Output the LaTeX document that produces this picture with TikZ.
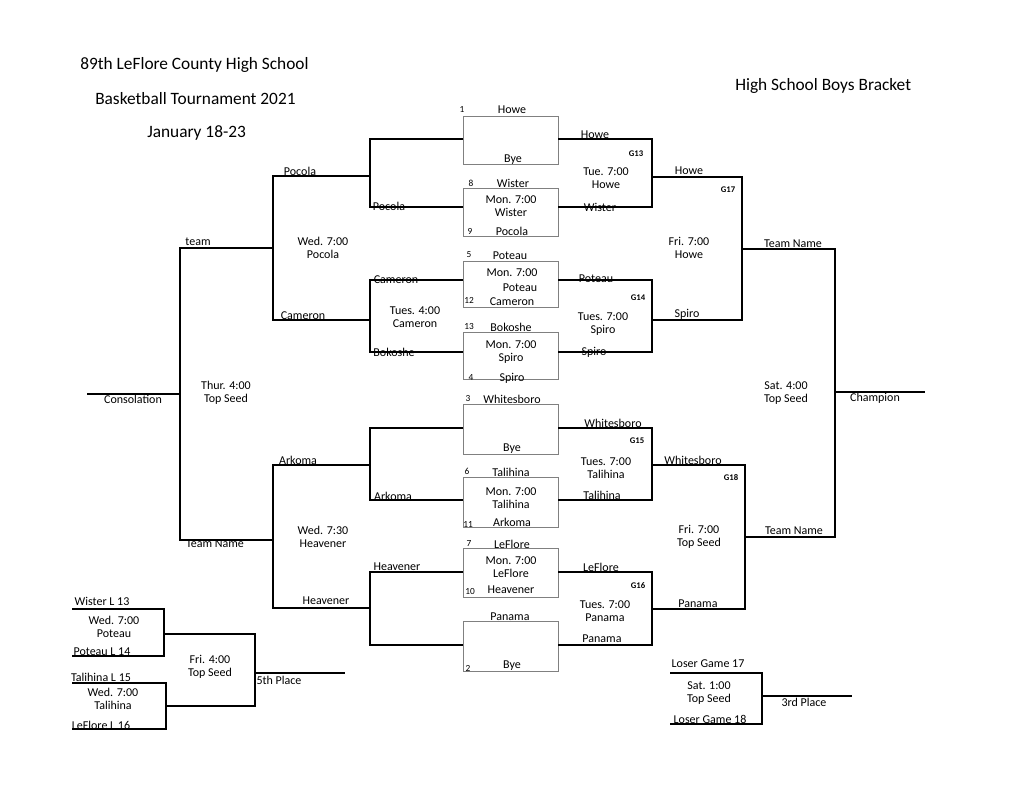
\documentclass[tikz,border=0pt]{standalone}
\usepackage{fontspec}
\setmainfont{Carlito}
\begin{document}
\begin{tikzpicture}[x=0.75pt,y=-0.75pt,
    lbl/.style={font=\fontsize{9}{10}\selectfont, inner sep=0pt},
    seed/.style={font=\fontsize{7}{8}\selectfont, inner sep=0pt},
    gnum/.style={font=\fontsize{6.5}{7}\selectfont\bfseries, inner sep=0pt},
    ttl/.style={font=\fontsize{13}{15}\selectfont, inner sep=0pt},
    bline/.style={line width=1.3pt},
    gbox/.style={draw=gray, line width=0.6pt}]
    \useasboundingbox[fill=white] (0,0) rectangle (1024,791);

    % Title
    \node[ttl, anchor=west] (t1) at (80,65) {89th LeFlore County High School};
    \node[ttl, anchor=west] (t2) at (95,99) {Basketball Tournament 2021};
    \node[ttl, anchor=west] (t3) at (147,133) {January 18-23};
    \node[ttl, anchor=west] (t4) at (735,86) {High School Boys Bracket};

    % Game boxes
    \foreach \top/\bot in {116/164,188/236,261/307,332/379,404/454,477/527,548/597,621/671}
        \draw[gbox] (463,\top) rectangle (558,\bot);

    % Left bracket lines
    \foreach \ya/\yb in {139/207,280/352,428/500,572/645} {
        \draw[bline] (463,\ya) -- (370,\ya) -- (370,\yb) -- (463,\yb);
        \draw[bline] (558,\ya) -- (652,\ya) -- (652,\yb) -- (558,\yb);
    }
    \draw[bline] (370,176) -- (273,176) -- (273,320) -- (370,320);
    \draw[bline] (370,465) -- (273,465) -- (273,608) -- (370,608);
    \draw[bline] (273,248) -- (180,248) -- (180,540) -- (273,540);
    \draw[bline] (180,394) -- (87,394);

    % Right bracket lines
    \draw[bline] (652,177) -- (742,177) -- (742,320) -- (652,320);
    \draw[bline] (652,465) -- (745,465) -- (745,609) -- (652,609);
    \draw[bline] (742,249) -- (835,249) -- (835,537) -- (745,537);
    \draw[bline] (835,392) -- (925,392);

    % Consolation lines
    \draw[bline] (72,609) -- (164,609) -- (164,656) -- (72,656);
    \draw[bline] (72,683) -- (166,683) -- (166,729) -- (72,729);
    \draw[bline] (164,634) -- (255,634) -- (255,706) -- (166,706);
    \draw[bline] (255,673) -- (345,673);

    % 3rd place lines
    \draw[bline] (670,673) -- (762,673) -- (762,724) -- (670,724);
    \draw[bline] (762,696) -- (852,696);

    % Left labels
    \node[lbl] (l1) at (198,242) {team};
    \node[lbl] (l2) at (300,171) {Pocola};
    \node[lbl] (l3) at (389,206) {Pocola};
    \node[lbl, align=center] (l4) at (323,248) {Wed. 7:00\\Pocola};
    \node[lbl] (l5) at (396,280) {Cameron};
    \node[lbl] (l6) at (303,316) {Cameron};
    \node[lbl, align=center] (l7) at (415,317) {Tues. 4:00\\Cameron};
    \node[lbl] (l8) at (394,352) {Bokoshe};
    \node[lbl] (l9) at (133,399) {Consolation};
    \node[lbl, align=center] (l10) at (226,393) {Thur. 4:00\\Top Seed};
    \node[lbl] (l11) at (298,460) {Arkoma};
    \node[lbl] (l12) at (393,496) {Arkoma};
    \node[lbl, align=center] (l13) at (323,537) {Wed. 7:30\\Heavener};
    \node[lbl] (l14) at (215,544) {Team Name};
    \node[lbl] (l15) at (397,567) {Heavener};
    \node[lbl] (l16) at (326,601) {Heavener};

    % Box labels
    \node[seed] (s1) at (462,110) {1};
    \node[lbl] (b1) at (512,110) {Howe};
    \node[lbl] (b2) at (513,160) {Bye};
    \node[seed] (s8) at (471,183) {8};
    \node[lbl] (b3) at (513,183) {Wister};
    \node[lbl, align=center] (b4) at (511,206) {Mon. 7:00\\Wister};
    \node[seed] (s9) at (470,231) {9};
    \node[lbl] (b5) at (512,231) {Pocola};
    \node[seed] (s5) at (469,255) {5};
    \node[lbl] (b6) at (510,256) {Poteau};
    \node[lbl] (b7) at (512,273) {Mon. 7:00};
    \node[lbl] (b8) at (520,288) {Poteau};
    \node[seed] (s12) at (469,300) {12};
    \node[lbl] (b9) at (512,302) {Cameron};
    \node[seed] (s13) at (469,327) {13};
    \node[lbl] (b10) at (511,327) {Bokoshe};
    \node[lbl, align=center] (b11) at (511,352) {Mon. 7:00\\Spiro};
    \node[seed] (s4) at (471,378) {4};
    \node[lbl] (b12) at (512,378) {Spiro};
    \node[seed] (s3) at (468,399) {3};
    \node[lbl] (b13) at (512,399) {Whitesboro};
    \node[lbl] (b14) at (512,449) {Bye};
    \node[seed] (s6) at (467,471) {6};
    \node[lbl] (b15) at (511,472) {Talihina};
    \node[lbl, align=center] (b16) at (511,498) {Mon. 7:00\\Talihina};
    \node[seed] (s11) at (468,524) {11};
    \node[lbl] (b17) at (512,522) {Arkoma};
    \node[seed] (s7) at (469,544) {7};
    \node[lbl] (b18) at (512,544) {LeFlore};
    \node[lbl, align=center] (b19) at (511,567) {Mon. 7:00\\LeFlore};
    \node[seed] (s10) at (470,592) {10};
    \node[lbl] (b20) at (511,590) {Heavener};
    \node[lbl] (b21) at (510,617) {Panama};
    \node[seed] (s2) at (468,668) {2};
    \node[lbl] (b22) at (512,666) {Bye};

    % Second round labels
    \node[lbl] (r1) at (595,135) {Howe};
    \node[gnum] (g13) at (636,154) {G13};
    \node[lbl, align=center] (r2) at (606,178) {Tue. 7:00\\Howe};
    \node[lbl] (r3) at (600,207) {Wister};
    \node[lbl] (r4) at (596,279) {Poteau};
    \node[gnum] (g14) at (638,298) {G14};
    \node[lbl, align=center] (r5) at (603,324) {Tues. 7:00\\Spiro};
    \node[lbl] (r6) at (594,352) {Spiro};
    \node[lbl] (r7) at (613,423) {Whitesboro};
    \node[gnum] (g15) at (637,441) {G15};
    \node[lbl, align=center] (r8) at (606,468) {Tues. 7:00\\Talihina};
    \node[lbl] (r9) at (602,495) {Talihina};
    \node[lbl] (r10) at (601,567) {LeFlore};
    \node[gnum] (g16) at (638,586) {G16};
    \node[lbl, align=center] (r11) at (605,611) {Tues. 7:00\\Panama};
    \node[lbl] (r12) at (602,639) {Panama};

    % Semifinal labels
    \node[lbl] (q1) at (689,171) {Howe};
    \node[gnum] (g17) at (728,190) {G17};
    \node[lbl, align=center] (q2) at (689,248) {Fri. 7:00\\Howe};
    \node[lbl] (q3) at (687,314) {Spiro};
    \node[lbl] (q4) at (693,460) {Whitesboro};
    \node[gnum] (g18) at (731,478) {G18};
    \node[lbl, align=center] (q5) at (699,537) {Fri. 7:00\\Top Seed};
    \node[lbl] (q6) at (698,604) {Panama};

    % Final labels
    \node[lbl] (f1) at (793,244) {Team Name};
    \node[lbl, align=center] (f2) at (786,393) {Sat. 4:00\\Top Seed};
    \node[lbl] (f3) at (875,398) {Champion};
    \node[lbl] (f4) at (794,531) {Team Name};

    % Consolation labels
    \node[lbl] (c1) at (102,601) {Wister L 13};
    \node[lbl, align=center] (c2) at (114,627) {Wed. 7:00\\Poteau};
    \node[lbl] (c3) at (102,652) {Poteau L 14};
    \node[lbl, align=center] (c4) at (210,667) {Fri. 4:00\\Top Seed};
    \node[lbl] (c5) at (279,680) {5th Place};
    \node[lbl] (c6) at (101,677) {Talihina L 15};
    \node[lbl, align=center] (c7) at (113,699) {Wed. 7:00\\Talihina};
    \node[lbl] (c8) at (101,725) {LeFlore L 16};

    % Third place labels
    \node[lbl] (p1) at (708,664) {Loser Game 17};
    \node[lbl, align=center] (p2) at (709,693) {Sat. 1:00\\Top Seed};
    \node[lbl] (p3) at (710,719) {Loser Game 18};
    \node[lbl] (p4) at (804,702) {3rd Place};
\end{tikzpicture}
\end{document}
